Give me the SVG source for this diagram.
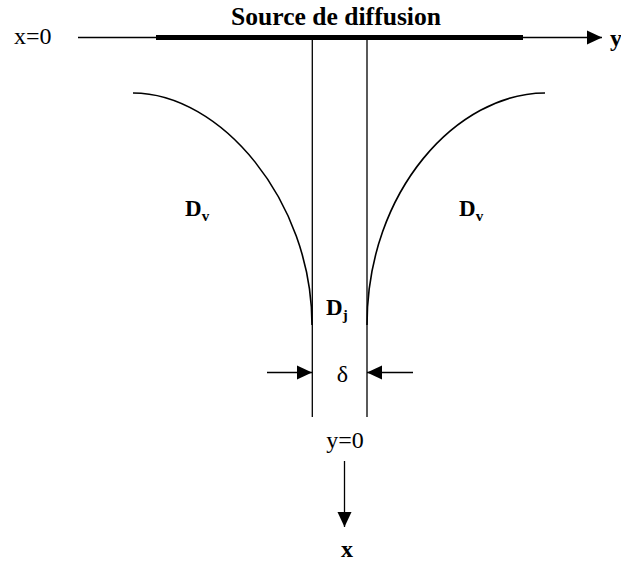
<svg xmlns="http://www.w3.org/2000/svg" width="621" height="562" viewBox="0 0 621 562">
<style>
.t{font-family:"Liberation Serif","Times New Roman","DejaVu Serif",serif;fill:#000}
.b{font-weight:bold}
.ln{stroke:#000;stroke-width:1.3;fill:none}
.cv{stroke:#000;stroke-width:1.6;fill:none}
</style>
<defs>
<marker id="ah" markerUnits="userSpaceOnUse" markerWidth="16" markerHeight="16" viewBox="0 0 16 14" refX="15" refY="7" orient="auto">
<path d="M0,0 L15,7 L0,14 Z" fill="#000"/>
</marker>
</defs>
<rect width="621" height="562" fill="#fff"/>
<g id="connectors">
<line class="ln" x1="78" y1="37.5" x2="602" y2="37.5" marker-end="url(#ah)"/>
<line class="ln" x1="267" y1="372.5" x2="312" y2="372.5" marker-end="url(#ah)"/>
<line class="ln" x1="413" y1="372.5" x2="367" y2="372.5" marker-end="url(#ah)"/>
<line class="ln" x1="344.5" y1="461" x2="344.5" y2="527" marker-end="url(#ah)"/>
</g>
<g id="source">
<rect x="156" y="35" width="367" height="5" fill="#000"/>
<text class="t b" x="231" y="25" font-size="25" textLength="210" lengthAdjust="spacingAndGlyphs">Source de diffusion</text>
</g>
<g id="axis-labels">
<text class="t" x="14" y="44" font-size="24">x=0</text>
<text class="t b" x="610" y="46" font-size="24">y</text>
<text class="t" x="345" y="448" font-size="24" text-anchor="middle">y=0</text>
<text class="t b" x="347" y="557" font-size="24" text-anchor="middle">x</text>
</g>
<g id="joint">
<line class="ln" x1="312.3" y1="40" x2="312.3" y2="417"/>
<line class="ln" x1="367" y1="40" x2="367" y2="417"/>
<text class="t b" x="326" y="315" font-size="23">D<tspan font-size="15" dy="5">j</tspan></text>
<text class="t" x="342.5" y="382" font-size="24" text-anchor="middle">δ</text>
</g>
<g id="left-region">
<path class="cv" d="M133,93 C220,93 312,200 312,325"/>
<text class="t b" x="185" y="216" font-size="23">D<tspan font-size="15" dy="5">v</tspan></text>
</g>
<g id="right-region">
<path class="cv" d="M545,93 C458,93 367,190 367,325"/>
<text class="t b" x="459" y="216" font-size="23">D<tspan font-size="15" dy="5">v</tspan></text>
</g>
</svg>
